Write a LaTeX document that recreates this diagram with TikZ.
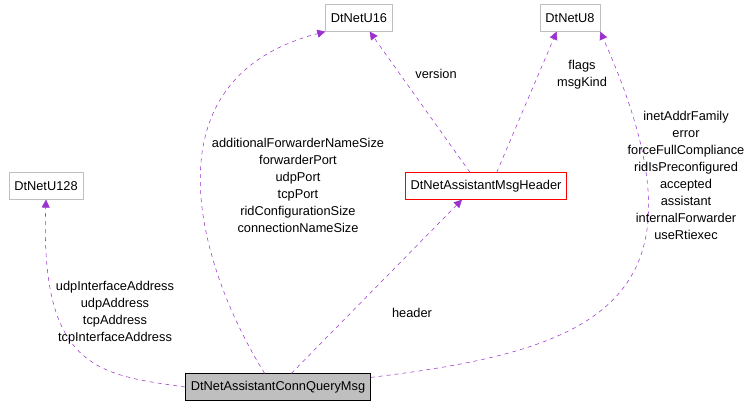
\documentclass[tikz,border=0pt]{standalone}
\usepackage{fontspec}
\setmainfont{Liberation Sans}
\usetikzlibrary{arrows.meta}
\definecolor{edgepurple}{RGB}{154,50,205}
\definecolor{boxgray}{RGB}{191,191,191}
\tikzset{
  cls/.style={draw=boxgray, minimum height=20pt, inner xsep=4pt, font=\fontsize{9.6}{12}\selectfont},
  rel/.style={draw=edgepurple, dashed, -{Triangle[open, fill=edgepurple, length=6pt, width=6pt]}},
  lbl/.style={align=center, font=\fontsize{9.6}{12.75}\selectfont}
}
\begin{document}
\begin{tikzpicture}[x=0.75pt, y=-0.75pt]
        \useasboundingbox (0,0) rectangle (752,408);
        \node[cls] (U16) at (359,18) {DtNetU16};
        \node[cls] (U8) at (570,18) {DtNetU8};
        \node[cls] (U128) at (46,186) {DtNetU128};
        \node[cls, draw=red] (Header) at (486,186) {DtNetAssistantMsgHeader};
        \node[cls, draw=black, fill=boxgray] (Query) at (278,387) {DtNetAssistantConnQueryMsg};
        % members
        \draw[rel] (Query.west) .. controls (100,375) and (40,370) .. (U128.south);
        \draw[rel] ([xshift=-10pt]Query.north)
            .. controls (200,270) and (140,80) .. (U16.south west);
        \draw[rel] ([xshift=10pt]Query.north) -- ([xshift=-18pt]Header.south);
        \draw[rel] ([xshift=-12pt]Header.north) -- ([xshift=8pt]U16.south);
        \draw[rel] ([xshift=8pt]Header.north) -- ([xshift=-10pt]U8.south);
        \draw[rel] ([yshift=-3pt]Query.north east)
            .. controls (600,350) and (720,300) .. (U8.south east);
        % labels
        \node[lbl] (l128) at (115,313) {udpInterfaceAddress\\udpAddress\\tcpAddress\\tcpInterfaceAddress};
        \node[lbl] (l16) at (298,185) {additionalForwarderNameSize\\forwarderPort\\udpPort\\tcpPort\\ridConfigurationSize\\connectionNameSize};
        \node[lbl] (lhead) at (412,313) {header};
        \node[lbl] (lver) at (436,74) {version};
        \node[lbl] (lflag) at (582,75) {flags\\msgKind};
        \node[lbl] (l8) at (686,175) {inetAddrFamily\\error\\forceFullCompliance\\ridIsPreconfigured\\accepted\\assistant\\internalForwarder\\useRtiexec};
\end{tikzpicture}
\end{document}
